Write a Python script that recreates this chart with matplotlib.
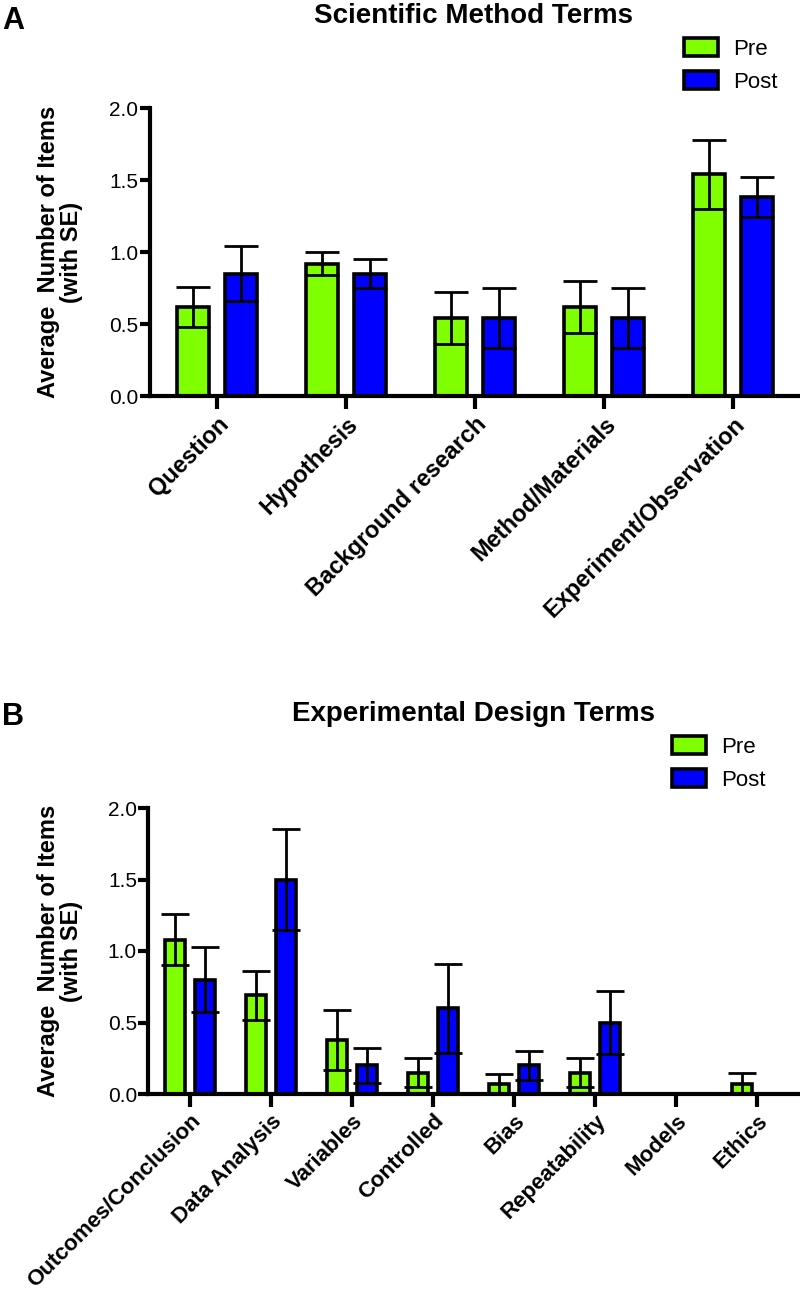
import numpy as np
import matplotlib
matplotlib.use("Agg")
import matplotlib.pyplot as plt

plt.rcParams['font.family'] = ['Liberation Sans', 'DejaVu Sans']

# Panel A data
method_terms = ["Question", "Hypothesis", "Background research",
                "Method/Materials", "Experiment/Observation"]
method_pre = [0.62, 0.92, 0.54, 0.62, 1.54]
method_pre_se = [0.14, 0.08, 0.18, 0.18, 0.24]
method_post = [0.85, 0.85, 0.54, 0.54, 1.38]
method_post_se = [0.19, 0.10, 0.21, 0.21, 0.14]

# Panel B data
design_terms = ["Outcomes/Conclusion", "Data Analysis", "Variables", "Controlled",
                "Bias", "Repeatability", "Models", "Ethics"]
design_pre = [1.08, 0.69, 0.38, 0.15, 0.07, 0.15, 0.0, 0.07]
design_pre_se = [0.18, 0.17, 0.21, 0.10, 0.07, 0.10, 0.0, 0.08]
design_post = [0.80, 1.50, 0.20, 0.60, 0.20, 0.50, 0.0, 0.0]
design_post_se = [0.23, 0.35, 0.12, 0.31, 0.10, 0.22, 0.0, 0.0]

GREEN = '#7FFF00'
BLUE = '#0000FF'
W, H = 800, 1298

fig = plt.figure(figsize=(W / 100, H / 100), dpi=100)


def panel(rect, terms, pre, pre_se, post, post_se, title, letter, title_y, letter_y,
          legend_xy, capsize, xlim, label_size):
    ax = fig.add_axes(rect)
    x = np.arange(len(terms))
    off, width = 0.186, 0.245
    bp = ax.bar(x - off, pre, width, color=GREEN, edgecolor='black', linewidth=2.6,
                zorder=2, label='Pre')
    bq = ax.bar(x + off, post, width, color=BLUE, edgecolor='black', linewidth=2.6,
                zorder=2, label='Post')
    # error bars (skip the empty ones so no stray caps sit on the axis)
    for xs, v, e in [(x - off, pre, pre_se), (x + off, post, post_se)]:
        v = np.asarray(v)
        e = np.asarray(e)
        m = e > 0
        ax.errorbar(xs[m], v[m], yerr=e[m], fmt='none', ecolor='black',
                    elinewidth=2.0, capsize=capsize, capthick=2.0, zorder=3)
    ax.set_xlim(*xlim)
    ax.set_ylim(0, 2.0)
    ax.set_yticks([0, 0.5, 1.0, 1.5, 2.0])
    ax.set_yticklabels(['0.0', '0.5', '1.0', '1.5', '2.0'], fontsize=15)
    ax.set_xticks(x)
    ax.set_xticklabels(terms, rotation=45, ha='right', rotation_mode='anchor',
                       fontsize=label_size, fontweight='bold')
    for s in ['top', 'right']:
        ax.spines[s].set_visible(False)
    for s in ['left', 'bottom']:
        ax.spines[s].set_linewidth(3)
    ax.spines['bottom'].set_zorder(4)
    ax.tick_params(axis='y', direction='out', length=7, width=3, pad=1)
    ax.tick_params(axis='x', direction='out', length=9, width=3, pad=3)
    fig.text(60 / W, rect[1] + rect[3] / 2, 'Average  Number of Items\n(with SE)',
             rotation=90, ha='center', va='center', fontsize=17, fontweight='bold',
             linespacing=1.0)
    fig.text(473 / W, title_y, title, ha='center', va='center', fontsize=20,
             fontweight='bold')
    fig.text(2 / W, letter_y, letter, ha='left', va='center', fontsize=22,
             fontweight='bold')
    fig.legend(handles=[bp, bq], labels=['Pre', 'Post'], loc='upper left',
               bbox_to_anchor=legend_xy, frameon=False, fontsize=16,
               handlelength=1.55, handleheight=0.9, handletextpad=0.65,
               labelspacing=0.5, borderaxespad=0, borderpad=0)
    return ax


# panel A: axis at x=149.5, y from 108 (2.0) to 396 (0.0)
axA = panel([149.5 / W, 1 - 396 / H, (W - 149.5) / W, (396 - 108) / H],
            method_terms, method_pre, method_pre_se, method_post, method_post_se,
            'Scientific Method Terms', 'A', 1 - 16 / H, 1 - 21 / H,
            (684 / W, 1 - 38 / H), 12, (-0.523, 4.52), 17)

# panel B: axis at x=148, y from 808 (2.0) to 1094 (0.0)
axB = panel([148 / W, 1 - 1094 / H, (W - 148) / W, (1094 - 808) / H],
            design_terms, design_pre, design_pre_se, design_post, design_post_se,
            'Experimental Design Terms', 'B', 1 - 714 / H, 1 - 717 / H,
            (672 / W, 1 - 736 / H), 10, (-0.519, 7.53), 16)

fig.savefig('out.png', dpi=100)
